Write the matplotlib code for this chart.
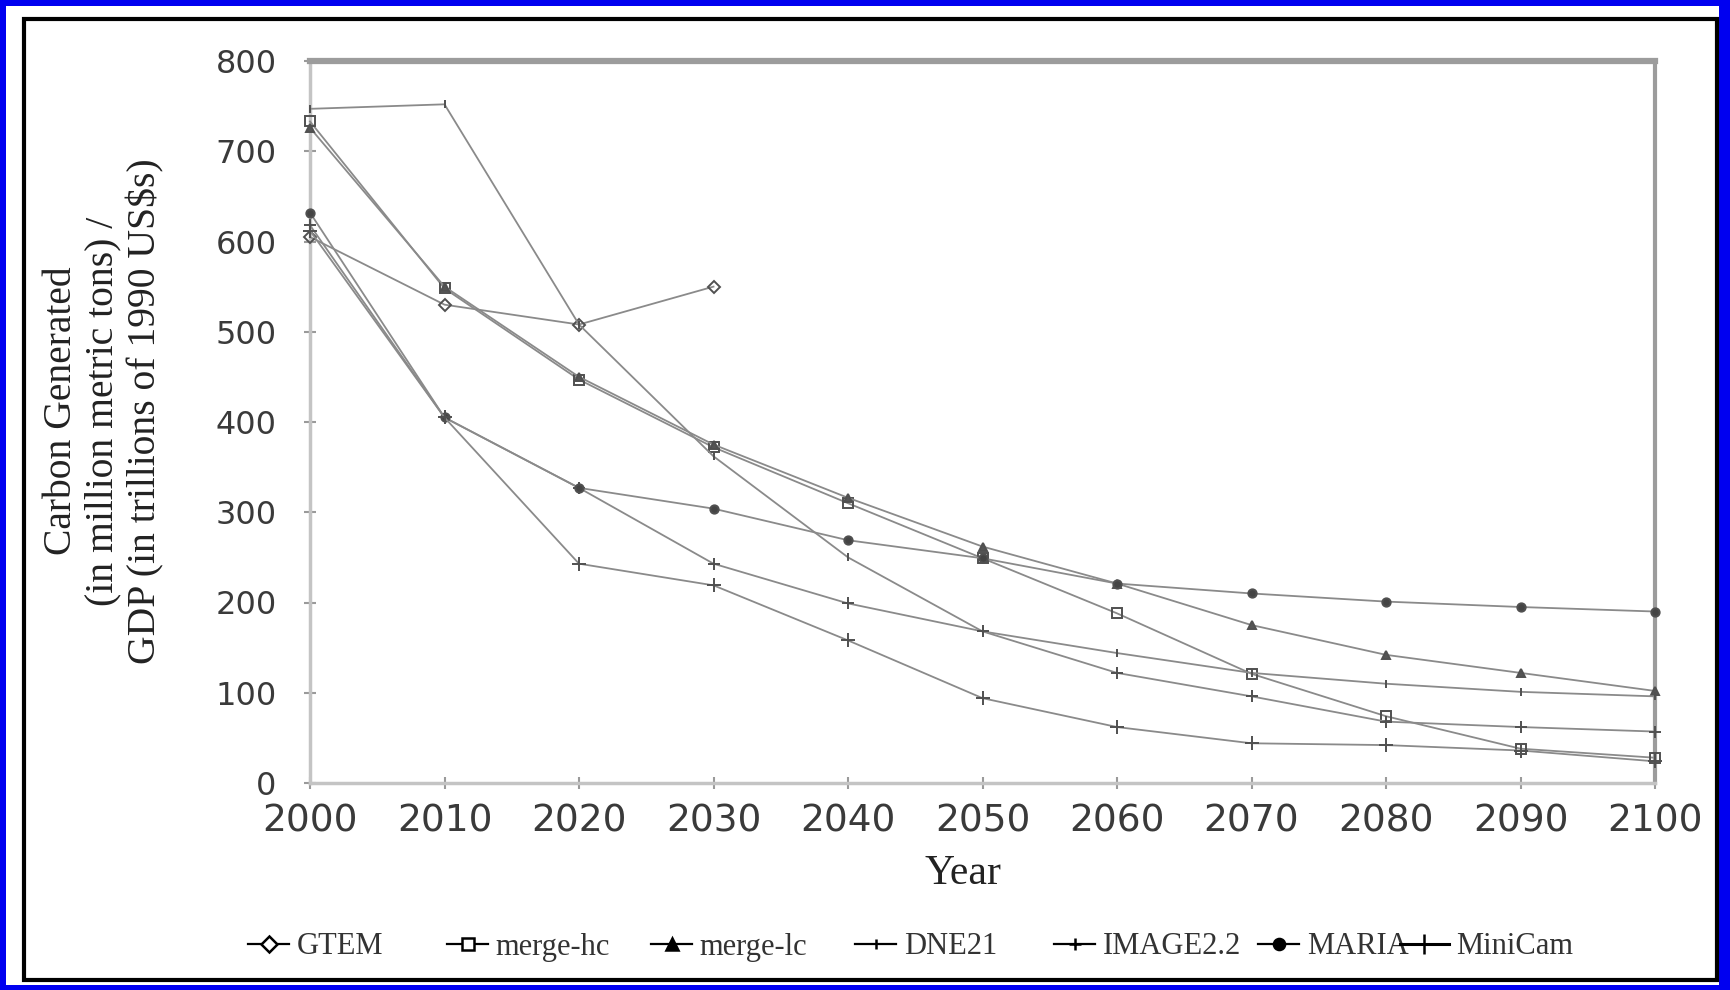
import matplotlib
matplotlib.use("Agg")
import matplotlib.pyplot as plt
from matplotlib.patches import Rectangle
from matplotlib.lines import Line2D

# ---------------- data ----------------
years = [2000, 2010, 2020, 2030, 2040, 2050, 2060, 2070, 2080, 2090, 2100]
series_names = ["GTEM", "merge-hc", "merge-lc", "DNE21", "IMAGE2.2", "MARIA", "MiniCam"]
gtem = [605, 530, 508, 550]
merge_hc = [733, 548, 447, 372, 310, 249, 188, 121, 74, 38, 28]
merge_lc = [726, 550, 450, 375, 316, 262, 221, 175, 142, 122, 102]
dne21 = [747, 752, 508, 362, 250, 168, 144, 122, 110, 101, 96]
image22 = [618, 405, 327, 243, 199, 168, 122, 96, 68, 62, 57]
maria = [632, 405, 327, 304, 269, 249, 221, 210, 201, 195, 190]
minicam = [612, 405, 243, 219, 158, 94, 62, 44, 42, 36, 24]
y_ticks = [0, 100, 200, 300, 400, 500, 600, 700, 800]
x_ticks = years

all_series = [gtem, merge_hc, merge_lc, dne21, image22, maria, minicam]

# --------------- styles ----------------
W, H = 1730, 990
markers = ["D", "s", "^", "|", "+", "o", "+"]
mfaces = ["none", "none", "#555555", "none", "none", "#444444", "none"]
msizes = [6, 7, 6, 6, 8, 6, 10]

fig = plt.figure(figsize=(W / 100, H / 100), dpi=100, facecolor="#0000f0")

# white page and black frame
fig.add_artist(Rectangle((6 / W, 1 - 985 / H), (1719 - 6) / W, (985 - 6) / H,
                         transform=fig.transFigure, facecolor="white", edgecolor="none", zorder=0))
fig.add_artist(Rectangle((24 / W, 1 - 980 / H), (1717 - 24) / W, (980 - 19) / H,
                         transform=fig.transFigure, facecolor="none", edgecolor="black",
                         linewidth=3.0, zorder=1))

left, right, top, bottom = 310, 1655, 61, 783
ax = fig.add_axes([left / W, 1 - bottom / H, (right - left) / W, (bottom - top) / H])
ax.set_facecolor("white")

for vals, name, mk, mf, ms in zip(all_series, series_names, markers, mfaces, msizes):
    ax.plot(years[:len(vals)], vals, color="#8a8a8a", linewidth=1.3,
            marker=mk, markersize=ms, markerfacecolor=mf, markeredgecolor="#505050",
            markeredgewidth=1.4, clip_on=False, zorder=3)

ax.set_xlim(2000, 2100)
ax.set_ylim(0, 800)
ax.set_xticks(x_ticks)
ax.set_yticks(y_ticks)
ax.set_xticklabels([str(v) for v in x_ticks], family="DejaVu Sans", fontsize=27, color="#3a3a3a")
ax.set_yticklabels([str(v) for v in y_ticks], family="DejaVu Sans", fontsize=23, color="#3a3a3a")
ax.tick_params(axis="both", direction="inout", length=8, width=1.5, colors="#9a9a9a")
ax.tick_params(axis="x", pad=11, labelcolor="#3a3a3a")
ax.tick_params(axis="y", pad=20, labelcolor="#3a3a3a")

for side, lw, col in [("top", 4.5, "#9c9c9c"), ("right", 3.0, "#9c9c9c"),
                      ("left", 2.5, "#c4c4c4"), ("bottom", 2.5, "#c4c4c4")]:
    ax.spines[side].set_linewidth(lw)
    ax.spines[side].set_color(col)

ax.set_xlabel("Year", family="Liberation Serif", fontsize=30, color="#222222", va="center")
ax.xaxis.set_label_coords((963 - left) / (right - left), -(874 - bottom) / (bottom - top))

fig.text(104 / W, 1 - 411 / H,
         "Carbon Generated\n(in million metric tons) /\nGDP (in trillions of 1990 US$s)",
         rotation=90, ha="center", va="center", multialignment="center",
         family="Liberation Serif", fontsize=28.5, color="#222222", linespacing=1.17,
         parse_math=False)

# legend: one entry per series, placed like the original row
leg_x = [248, 447, 651, 855, 1054, 1258, 1400]
leg_y = 947
leg_mk_size = [8, 8, 8, 7, 9, 8, 14]
for name, mk, mf, ms, lx in zip(series_names, markers, mfaces, leg_mk_size, leg_x):
    lw = 2.2 if name == "MiniCam" else 1.6
    h = Line2D([], [], color="black", linewidth=lw, marker=mk, markersize=ms,
               markerfacecolor=("black" if mf != "none" else "white"),
               markeredgecolor="black", markeredgewidth=1.8)
    hl = 1.6 if name == "MiniCam" else 1.35
    lg = fig.legend(handles=[h], labels=[name], loc="center left",
                    bbox_to_anchor=(lx / W, 1 - leg_y / H), frameon=False,
                    borderpad=0, borderaxespad=0, handlelength=hl, handletextpad=0.25,
                    prop={"family": "Liberation Serif", "size": 22})
    for t in lg.get_texts():
        t.set_color("#333333")

fig.savefig("out.png", dpi=100, facecolor=fig.get_facecolor())
